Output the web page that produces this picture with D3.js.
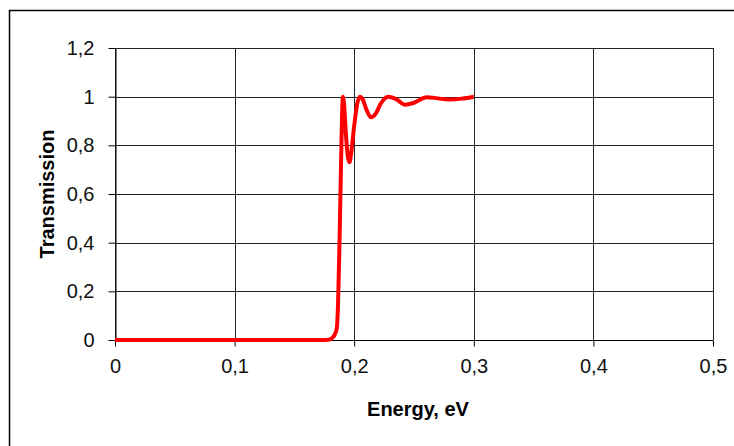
<!DOCTYPE html>
<html>
<head>
<meta charset="utf-8">
<script src="https://cdn.jsdelivr.net/npm/d3@7"></script>
<style>
  html, body { margin: 0; padding: 0; background: #fff; }
  svg { display: block; font-family: "Liberation Sans", Arial, sans-serif; }
</style>
</head>
<body>
<svg id="chart" width="734" height="446"></svg>
<script>
// Data
const energy = [0, 0.05, 0.10, 0.15, 0.175, 0.178, 0.181, 0.1835, 0.1855, 0.1865, 0.1875, 0.1885, 0.1893, 0.19, 0.1905,
  0.1915, 0.193, 0.1945, 0.196, 0.1975, 0.2, 0.2025, 0.2048, 0.207, 0.21, 0.214, 0.218, 0.222, 0.2285,
  0.235, 0.2425, 0.25, 0.2606, 0.27, 0.2787, 0.29, 0.3];
const transmission = [0, 0, 0, 0, 0, 0.001, 0.006, 0.02, 0.05, 0.15, 0.35, 0.6, 0.8, 0.95, 1.0,
  0.97, 0.85, 0.76, 0.73, 0.77, 0.88, 0.97, 1.0, 0.99, 0.95, 0.915, 0.93, 0.97, 1.0,
  0.99, 0.967, 0.975, 0.998, 0.993, 0.988, 0.992, 1.0];
const xTicks = [0, 0.1, 0.2, 0.3, 0.4, 0.5];
const yTicks = [0, 0.2, 0.4, 0.6, 0.8, 1.0, 1.2];
const xTitle = "Energy, eV";
const yTitle = "Transmission";

const svg = d3.select("#chart");
const L = 115, R = 713, T = 48, B = 340;
const x = d3.scaleLinear().domain([0, 0.5]).range([L, R]);
const y = d3.scaleLinear().domain([0, 1.2]).range([B, T]);
const fmt = d => d3.format("")(+d.toFixed(1)).replace(".", ",");

// outer border
svg.append("rect").attr("x", 9.5).attr("y", 10.5).attr("width", 740).attr("height", 450)
  .attr("fill", "none").attr("stroke", "#000").attr("stroke-width", 1.5);

// gridlines
const grid = svg.append("g").attr("stroke", "#222").attr("stroke-width", 1).attr("shape-rendering", "crispEdges");
yTicks.forEach(v => grid.append("line").attr("x1", L).attr("x2", R).attr("y1", Math.round(y(v)) + 0.5).attr("y2", Math.round(y(v)) + 0.5));
xTicks.forEach(v => grid.append("line").attr("x1", Math.round(x(v)) + 0.5).attr("x2", Math.round(x(v)) + 0.5).attr("y1", T).attr("y2", B));

// axes
const xAxis = d3.axisBottom(x).tickValues(xTicks).tickFormat(fmt).tickSize(6).tickSizeOuter(0).tickPadding(12);
const yAxis = d3.axisLeft(y).tickValues(yTicks).tickFormat(fmt).tickSize(7).tickSizeOuter(0).tickPadding(14);
const gx = svg.append("g").attr("transform", `translate(0,${Math.round(B) + 0.5})`).call(xAxis);
const gy = svg.append("g").attr("transform", `translate(${Math.round(L) + 0.5},0)`).call(yAxis);
[gx, gy].forEach(g => {
  g.selectAll("path.domain").attr("stroke", "#000");
  g.selectAll(".tick line").attr("stroke", "#000");
  g.selectAll("text").attr("font-size", 20).attr("fill", "#111").attr("font-family", "Liberation Sans, Arial, sans-serif");
});
gx.selectAll("path.domain").remove();
gx.append("line").attr("x1", L).attr("x2", R).attr("stroke", "#000");

// line
const line = d3.line().x((d, i) => x(energy[i])).y(d => y(d)).curve(d3.curveMonotoneX);
svg.append("path").datum(transmission).attr("d", line)
  .attr("fill", "none").attr("stroke", "#ff0000").attr("stroke-width", 4).attr("stroke-linejoin", "round");

// titles
svg.append("text").attr("x", (L + R) / 2 + 4).attr("y", 416).attr("text-anchor", "middle")
  .attr("font-size", 20).attr("font-weight", "bold").text(xTitle);
svg.append("text").attr("transform", `translate(54,${(T + B) / 2}) rotate(-90)`).attr("text-anchor", "middle")
  .attr("font-size", 20).attr("font-weight", "bold").text(yTitle);
</script>
</body>
</html>
